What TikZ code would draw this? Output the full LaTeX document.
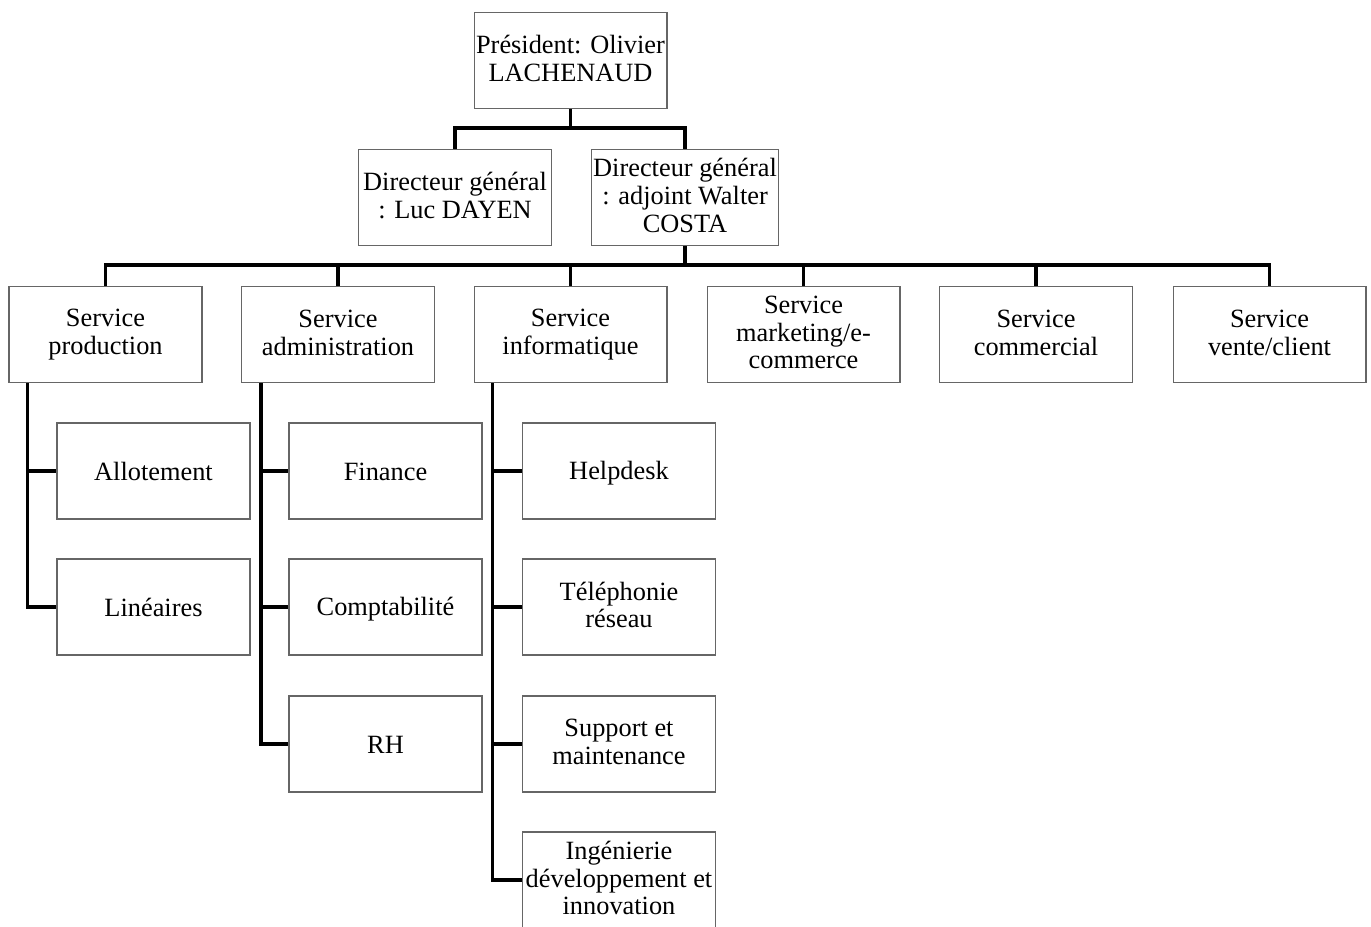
\documentclass[tikz,border=0pt]{standalone}
\usepackage{fontspec}
\setmainfont{Liberation Serif}
\usepackage{xcolor}
\usepackage{tikz}
\usetikzlibrary{calc}

\begin{document}
\begin{tikzpicture}[
        x=0.02cm, y=-0.02cm,
        unit/.style={draw=black!60, line width=0.6pt, fill=white, rectangle, minimum width=3.86cm, minimum height=1.92cm, inner sep=1pt, align=center, font=\fontsize{15}{15.8}\selectfont, execute at begin node={\rule{0pt}{13.4pt}}, execute at end node={\rule[-2.4pt]{0pt}{0pt}}},
        link/.style={line width=2pt, black}
    ]
    \useasboundingbox (0,0) rectangle (1371,926);

    % President block
    \node[unit] (pres) at (570.5,60.5) {Président: Olivier\\LACHENAUD};

    % General directors
    \node[unit] (dg) at (455,197.5) {Directeur général\\: Luc DAYEN};
    \node[unit, minimum width=3.74cm] (dga) at (685,197.5) {Directeur général\\: adjoint Walter\\COSTA};

    % Services
    \node[unit] (sprod) at (105.5,334.5) {Service\\production};
    \node[unit] (sadmin) at (338,334.5) {Service\\administration};
    \node[unit] (sinfo) at (570.5,334.5) {Service\\informatique};
    \node[unit] (smark) at (803.5,334.5) {Service\\marketing/e-\\commerce};
    \node[unit] (scomm) at (1036,334.5) {Service\\commercial};
    \node[unit] (svente) at (1269.5,334.5) {Service\\vente/client};

    % Production teams
    \node[unit] (allot) at (153.5,471) {Allotement};
    \node[unit] (lin) at (153.5,607) {Linéaires};

    % Administration teams
    \node[unit] (fin) at (385.5,471) {Finance};
    \node[unit] (compta) at (385.5,607) {Comptabilité};
    \node[unit] (rh) at (385.5,744) {RH};

    % IT teams
    \node[unit] (help) at (619,471) {Helpdesk};
    \node[unit] (tel) at (619,607) {Téléphonie\\réseau};
    \node[unit] (supp) at (619,744) {Support et\\maintenance};
    \node[unit] (inge) at (619,880) {Ingénierie\\développement et\\innovation};

    % Bus lines
    \coordinate (busA) at (0,128);
    \coordinate (busB) at (0,265);
    \coordinate (tprod) at ($(sprod.south west)+(19,0)$);
    \coordinate (tadmin) at ($(sadmin.south west)+(20,0)$);
    \coordinate (tinfo) at ($(sinfo.south west)+(19,0)$);

    % Top links
    \draw[link] (pres.south) -- (pres.south |- busA);
    \draw[link] (dg.north) -- (dg.north |- busA) -| (dga.north);

    % Service links
    \draw[link] (dga.south) -- (dga.south |- busB);
    \draw[link] (sprod.north) -- (sprod.north |- busB) -| (svente.north);
    \draw[link] (sadmin.north) -- (sadmin.north |- busB);
    \draw[link] (sinfo.north) -- (sinfo.north |- busB);
    \draw[link] (smark.north) -- (smark.north |- busB);
    \draw[link] (scomm.north) -- (scomm.north |- busB);

    % Team links
    \draw[link] (tprod) |- (lin.west);
    \draw[link] (tprod |- allot.west) -- (allot.west);
    \draw[link] (tadmin) |- (rh.west);
    \draw[link] (tadmin |- fin.west) -- (fin.west);
    \draw[link] (tadmin |- compta.west) -- (compta.west);
    \draw[link] (tinfo) |- (inge.west);
    \draw[link] (tinfo |- help.west) -- (help.west);
    \draw[link] (tinfo |- tel.west) -- (tel.west);
    \draw[link] (tinfo |- supp.west) -- (supp.west);

\end{tikzpicture}
\end{document}
